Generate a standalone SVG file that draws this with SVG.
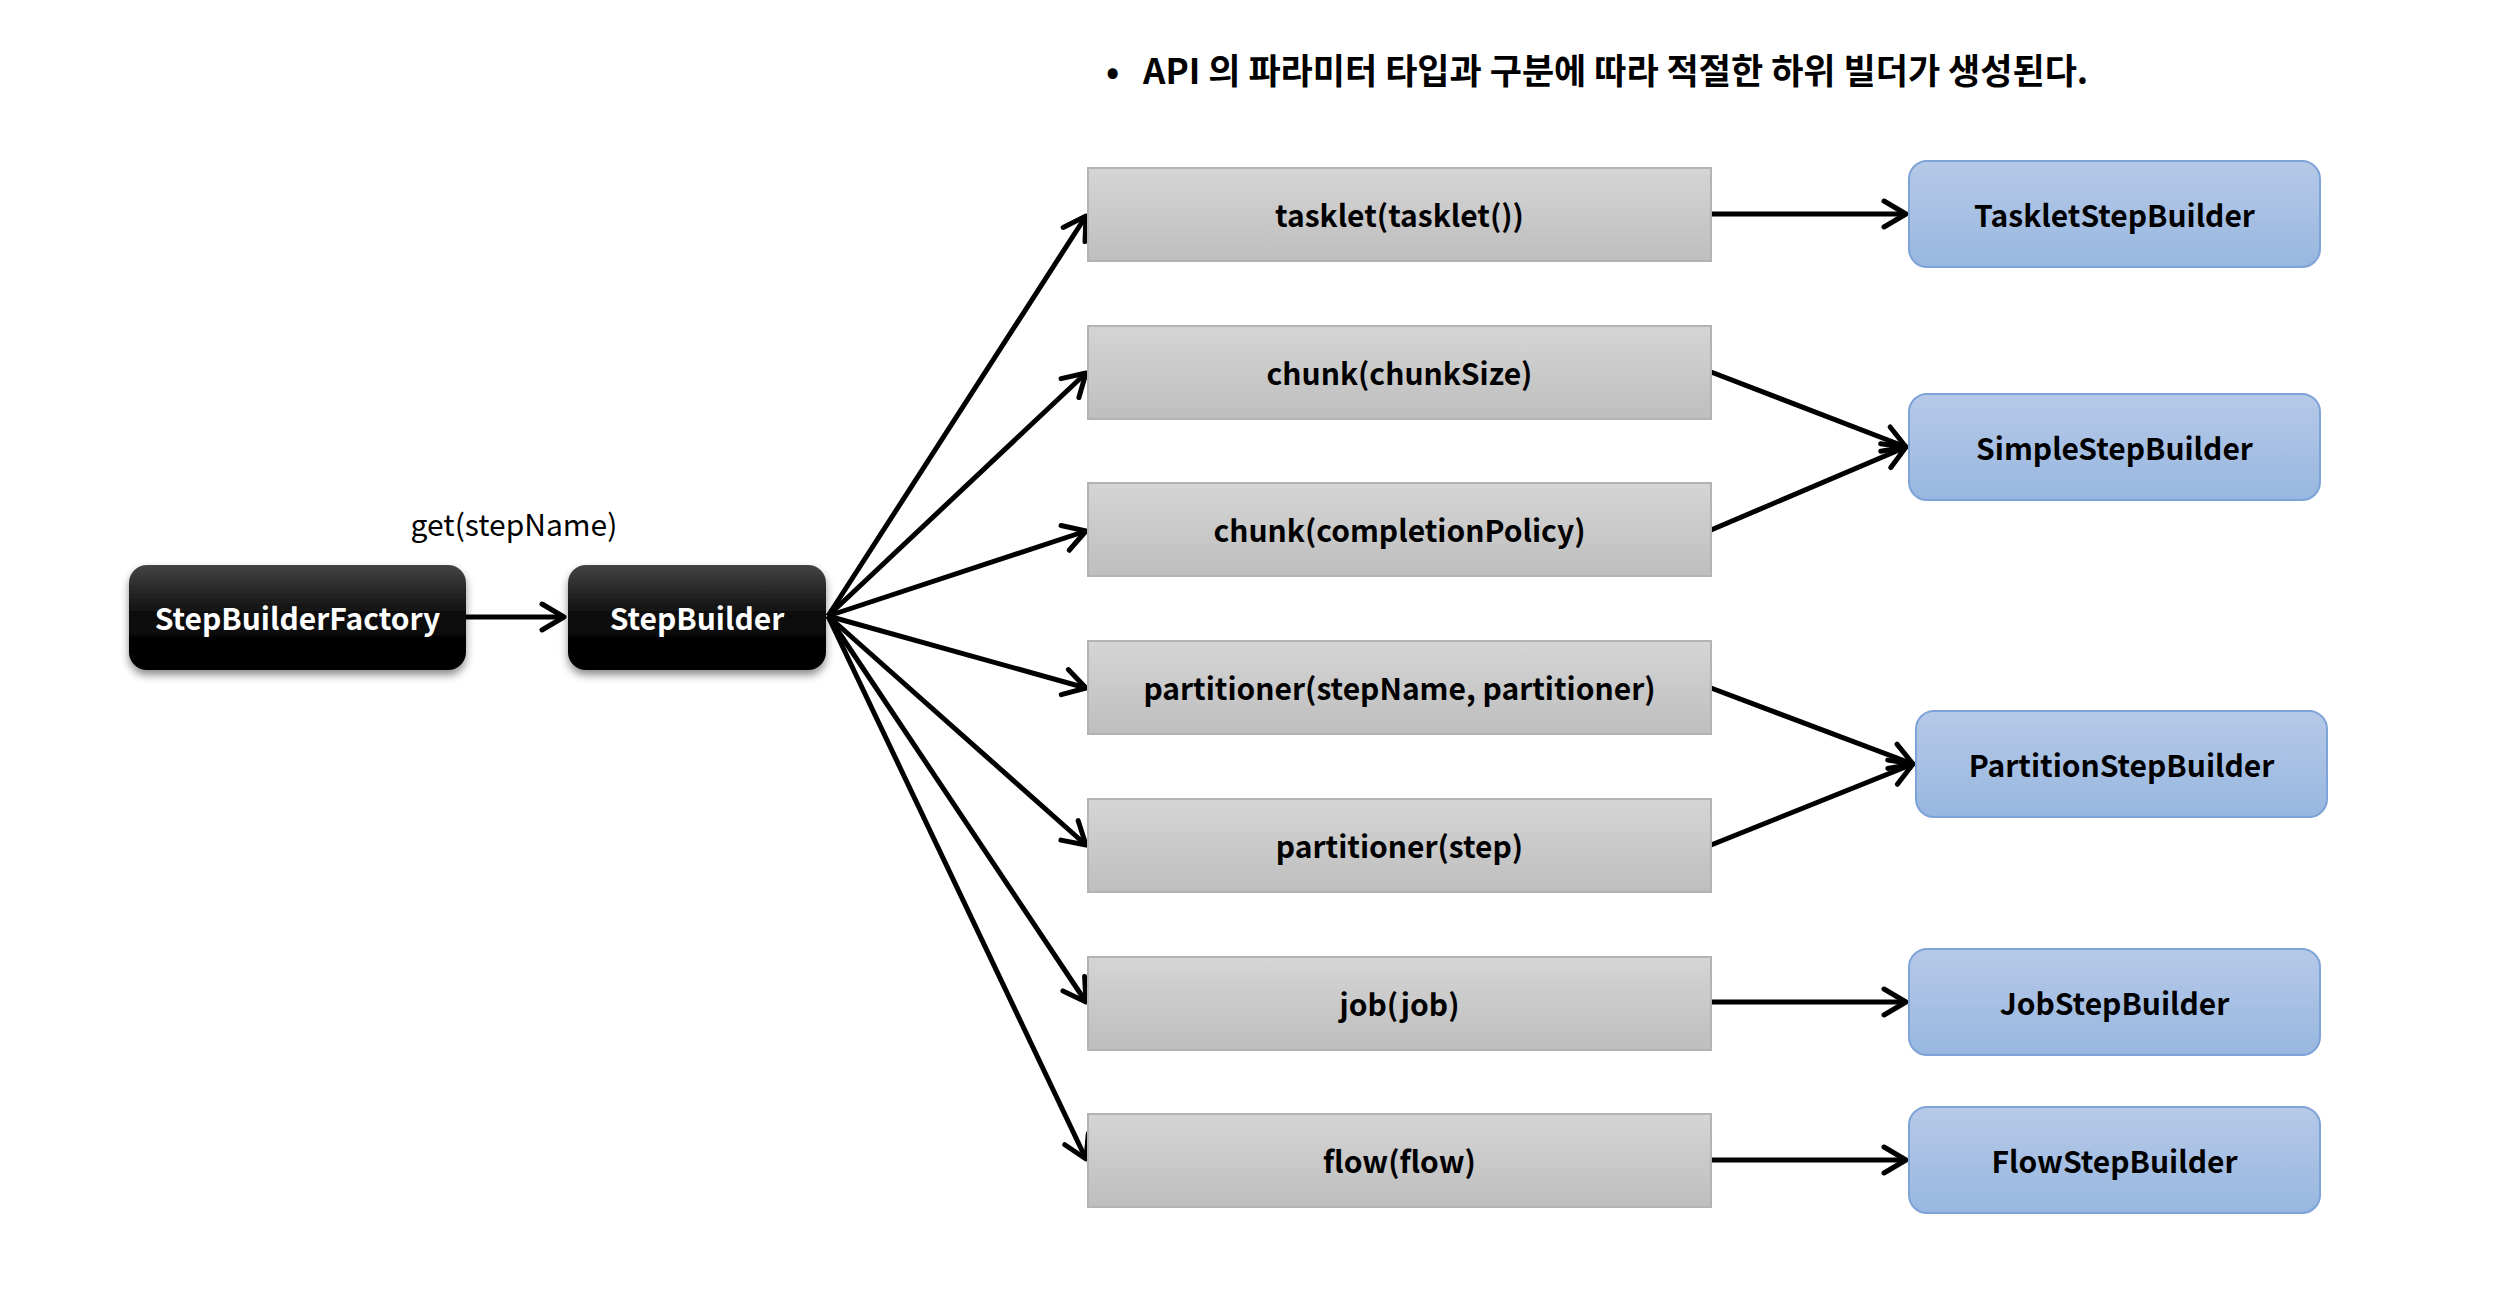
<svg xmlns="http://www.w3.org/2000/svg" width="2506" height="1308" viewBox="0 0 2506 1308">
<style>
  .lbl { font-family: "Noto Sans CJK KR", "Noto Sans", sans-serif; font-weight: bold; font-size: 30px; text-anchor: middle; fill: #000; }
  .wlbl { font-family: "Noto Sans CJK KR", "Noto Sans", sans-serif; font-weight: bold; font-size: 30px; text-anchor: middle; fill: #fff; }
  .note { font-family: "Noto Sans CJK KR", "Noto Sans", sans-serif; font-size: 30px; text-anchor: middle; fill: #000; }
  .head { font-family: "Noto Sans CJK KR", sans-serif; font-weight: bold; font-size: 35px; fill: #000; }
  .gray { fill: url(#gGray); stroke: #b3b3b3; stroke-width: 2; }
  .blue { fill: url(#gBlue); stroke: #7ea3d8; stroke-width: 2; }
  .black { fill: url(#gBlack); filter: url(#shadow); }
  .conn { stroke: #000; stroke-width: 5; fill: none; marker-end: url(#arrow); }
</style>
<defs>
  <linearGradient id="gGray" x1="0" y1="0" x2="0" y2="1">
    <stop offset="0" stop-color="#d5d5d5"/>
    <stop offset="1" stop-color="#bebebe"/>
  </linearGradient>
  <linearGradient id="gBlue" x1="0" y1="0" x2="0" y2="1">
    <stop offset="0" stop-color="#b6c9e7"/>
    <stop offset="1" stop-color="#98b7e0"/>
  </linearGradient>
  <linearGradient id="gBlack" x1="0" y1="0" x2="0" y2="1">
    <stop offset="0" stop-color="#444444"/>
    <stop offset="0.5" stop-color="#0a0a0a"/>
    <stop offset="1" stop-color="#000000"/>
  </linearGradient>
  <filter id="shadow" x="-10%" y="-10%" width="120%" height="140%">
    <feDropShadow dx="0" dy="5" stdDeviation="4" flood-color="#000" flood-opacity="0.45"/>
  </filter>
  <marker id="arrow" markerUnits="userSpaceOnUse" markerWidth="40" markerHeight="40" viewBox="-30 -20 40 40" refX="0" refY="0" orient="auto">
    <path d="M-22,-13 L0,0 L-22,13" fill="none" stroke="#000" stroke-width="5" stroke-linecap="round" stroke-linejoin="round"/>
  </marker>
</defs>

<g id="header">
  <text class="head" x="1106" y="84">•</text>
  <text class="head" x="1143" y="84">API 의 파라미터 타입과 구분에 따라 적절한 하위 빌더가 생성된다.</text>
</g>

<g id="connectors">
  <line class="conn" x1="466" y1="617" x2="564" y2="617"/>
  <text class="note" x="514" y="536">get(stepName)</text>
  <line class="conn" x1="828" y1="616" x2="1086" y2="216"/>
  <line class="conn" x1="828" y1="616" x2="1086" y2="373"/>
  <line class="conn" x1="828" y1="616" x2="1086" y2="531"/>
  <line class="conn" x1="828" y1="616" x2="1086" y2="688"/>
  <line class="conn" x1="828" y1="616" x2="1086" y2="845"/>
  <line class="conn" x1="828" y1="616" x2="1086" y2="1002"/>
  <line class="conn" x1="828" y1="616" x2="1086" y2="1159"/>
  <line class="conn" x1="1711" y1="214" x2="1906" y2="214"/>
  <line class="conn" x1="1711" y1="372" x2="1906" y2="447"/>
  <line class="conn" x1="1711" y1="530" x2="1906" y2="447"/>
  <line class="conn" x1="1711" y1="688" x2="1913" y2="764"/>
  <line class="conn" x1="1711" y1="845" x2="1913" y2="764"/>
  <line class="conn" x1="1711" y1="1002" x2="1906" y2="1002"/>
  <line class="conn" x1="1711" y1="1160" x2="1906" y2="1160"/>
</g>

<g id="StepBuilderFactory">
  <rect class="black" x="129" y="565" width="337" height="105" rx="18"/>
  <text class="wlbl" x="297.5" y="630">StepBuilderFactory</text>
</g>
<g id="StepBuilder">
  <rect class="black" x="568" y="565" width="258" height="105" rx="18"/>
  <text class="wlbl" x="697" y="630">StepBuilder</text>
</g>

<g id="tasklet">
  <rect class="gray" x="1088" y="168" width="623" height="93"/>
  <text class="lbl" x="1399.5" y="227">tasklet(tasklet())</text>
</g>
<g id="chunkSize">
  <rect class="gray" x="1088" y="326" width="623" height="93"/>
  <text class="lbl" x="1399.5" y="385">chunk(chunkSize)</text>
</g>
<g id="chunkPolicy">
  <rect class="gray" x="1088" y="483" width="623" height="93"/>
  <text class="lbl" x="1399.5" y="542">chunk(completionPolicy)</text>
</g>
<g id="partitionerName">
  <rect class="gray" x="1088" y="641" width="623" height="93"/>
  <text class="lbl" x="1399.5" y="700">partitioner(stepName, partitioner)</text>
</g>
<g id="partitionerStep">
  <rect class="gray" x="1088" y="799" width="623" height="93"/>
  <text class="lbl" x="1399.5" y="858">partitioner(step)</text>
</g>
<g id="job">
  <rect class="gray" x="1088" y="957" width="623" height="93"/>
  <text class="lbl" x="1399.5" y="1016">job(job)</text>
</g>
<g id="flow">
  <rect class="gray" x="1088" y="1114" width="623" height="93"/>
  <text class="lbl" x="1399.5" y="1173">flow(flow)</text>
</g>

<g id="TaskletStepBuilder">
  <rect class="blue" x="1909" y="161" width="411" height="106" rx="18"/>
  <text class="lbl" x="2114.5" y="227">TaskletStepBuilder</text>
</g>
<g id="SimpleStepBuilder">
  <rect class="blue" x="1909" y="394" width="411" height="106" rx="18"/>
  <text class="lbl" x="2114.5" y="460">SimpleStepBuilder</text>
</g>
<g id="PartitionStepBuilder">
  <rect class="blue" x="1916" y="711" width="411" height="106" rx="18"/>
  <text class="lbl" x="2121.5" y="777">PartitionStepBuilder</text>
</g>
<g id="JobStepBuilder">
  <rect class="blue" x="1909" y="949" width="411" height="106" rx="18"/>
  <text class="lbl" x="2114.5" y="1015">JobStepBuilder</text>
</g>
<g id="FlowStepBuilder">
  <rect class="blue" x="1909" y="1107" width="411" height="106" rx="18"/>
  <text class="lbl" x="2114.5" y="1173">FlowStepBuilder</text>
</g>
</svg>
